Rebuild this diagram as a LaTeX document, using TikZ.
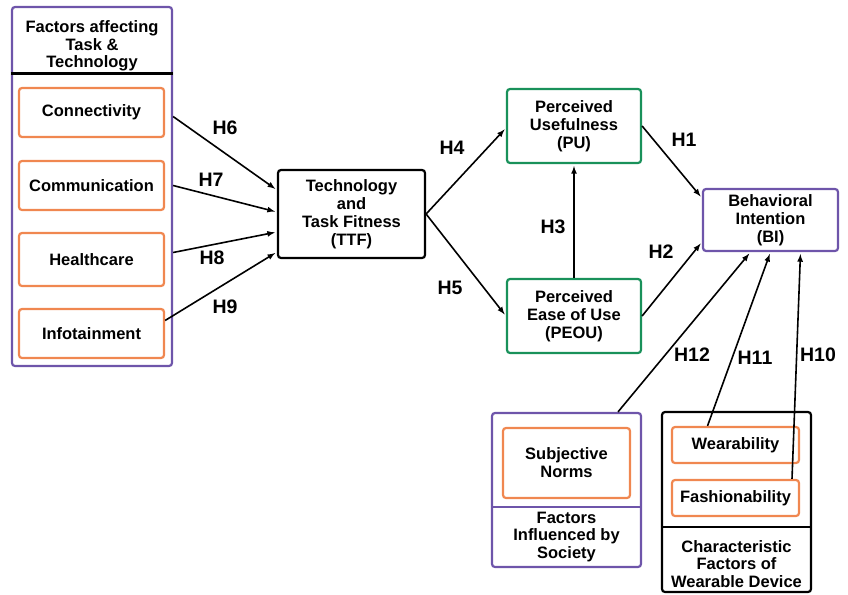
\documentclass[tikz,border=0pt]{standalone}
\usepackage{fontspec}
\setmainfont{Liberation Sans}
\usetikzlibrary{calc}
\definecolor{factorange}{RGB}{240,135,80}
\definecolor{grppurple}{RGB}{110,85,170}
\definecolor{tamgreen}{RGB}{25,145,90}
\tikzset{
  box/.style={draw, rounded corners=3pt, line width=2.2pt, align=center, inner sep=0pt,
    font=\bfseries\fontsize{16.5}{18}\selectfont},
  factor/.style={box, draw=factorange},
  tam/.style={box, draw=tamgreen},
  grp/.style={box, draw=grppurple},
  txt/.style={align=center, inner sep=0pt, font=\bfseries\fontsize{16.5}{17.5}\selectfont},
  hyp/.style={inner sep=0pt, font=\bfseries\fontsize{19.5}{21}\selectfont},
  link/.style={line width=1.6pt, -latex, shorten >=2pt}
}
\begin{document}
\begin{tikzpicture}[x=1pt,y=-1pt]
  \useasboundingbox (0,0) rectangle (848,594);
  % left group
  \node[grp, minimum width=160pt, minimum height=359pt] (taskgrp) at (92,186.5) {};
  \node[txt] (tasktitle) at (92,46) {Factors affecting\\Task \&\\Technology};
  \draw[line width=3pt] (taskgrp.west |- 0,73) -- (taskgrp.east |- 0,73);
  \node[factor, minimum width=145pt, minimum height=49pt] (conn) at (91.5,112.5) {Connectivity};
  \node[factor, minimum width=145pt, minimum height=49pt] (comm) at (91.5,185.5) {Communication};
  \node[factor, minimum width=145pt, minimum height=53pt] (health) at (91.5,259.5) {Healthcare};
  \node[factor, minimum width=145pt, minimum height=49pt] (info) at (91.5,333.5) {Infotainment};
  % core model
  \node[box, minimum width=147pt, minimum height=88pt] (ttf) at (351.5,214) {Technology\\and\\Task Fitness\\(TTF)};
  \node[tam, minimum width=134pt, minimum height=74pt] (pu) at (574,126) {Perceived\\Usefulness\\(PU)};
  \node[tam, minimum width=134pt, minimum height=74pt] (peou) at (574,316) {Perceived\\Ease of Use\\(PEOU)};
  \node[grp, minimum width=135pt, minimum height=62pt] (bi) at (770.5,220) {Behavioral\\Intention\\(BI)};
  % society group
  \node[grp, minimum width=149pt, minimum height=154pt] (socgrp) at (566.5,490) {};
  \draw[grppurple, line width=2.2pt] (socgrp.west |- 0,507) -- (socgrp.east |- 0,507);
  \node[factor, minimum width=127pt, minimum height=70pt] (norms) at (566.5,463) {Subjective\\Norms};
  \node[txt] (soctitle) at (566.5,537) {Factors\\Influenced by\\Society};
  % device group
  \node[box, minimum width=149pt, minimum height=180pt] (devgrp) at (736.5,502) {};
  \draw[line width=2.2pt] (devgrp.west |- 0,527) -- (devgrp.east |- 0,527);
  \node[factor, minimum width=127pt, minimum height=36pt] (wear) at (735.5,445) {Wearability};
  \node[factor, minimum width=127pt, minimum height=36pt] (fash) at (735.5,498) {Fashionability};
  \node[txt] (devtitle) at (736.5,564) {Characteristic\\Factors of\\Wearable Device};
  % hypotheses
  \draw[link] ([yshift=-4pt]conn.east -| taskgrp.east) -- ([yshift=24pt]ttf.west);
  \draw[link] (comm.east -| taskgrp.east) -- ([yshift=2pt]ttf.west);
  \draw[link] ([yshift=7pt]health.east -| taskgrp.east) -- ([yshift=-18pt]ttf.west);
  \draw[link] ([yshift=13pt]info.east) -- ([yshift=-38pt]ttf.west);
  \draw[link] (ttf.east) -- ([yshift=-2pt]pu.west);
  \draw[link] (ttf.east) -- (peou.west);
  \draw[link] (peou.north) -- (pu.south);
  \draw[link] (pu.east) -- ([yshift=22pt]bi.west);
  \draw[link] (peou.east) -- ([yshift=-22pt]bi.west);
  \draw[link] ([xshift=51.5pt]socgrp.north) -- ([xshift=-20pt]bi.south);
  \draw[link] ([xshift=-28pt]wear.north) -- (bi.south);
  \draw[link] ([xshift=56.5pt]fash.north) -- ([xshift=30pt]bi.south);
  \node[hyp] (h6) at (225,128) {H6};
  \node[hyp] (h7) at (211,180) {H7};
  \node[hyp] (h8) at (212,258) {H8};
  \node[hyp] (h9) at (225,307) {H9};
  \node[hyp] (h4) at (452,148) {H4};
  \node[hyp] (h5) at (450,288) {H5};
  \node[hyp] (h1) at (684,140) {H1};
  \node[hyp] (h2) at (661,252) {H2};
  \node[hyp] (h3) at (553,227) {H3};
  \node[hyp] (h12) at (692,355) {H12};
  \node[hyp] (h11) at (755,358) {H11};
  \node[hyp] (h10) at (818,355) {H10};
\end{tikzpicture}
\end{document}
